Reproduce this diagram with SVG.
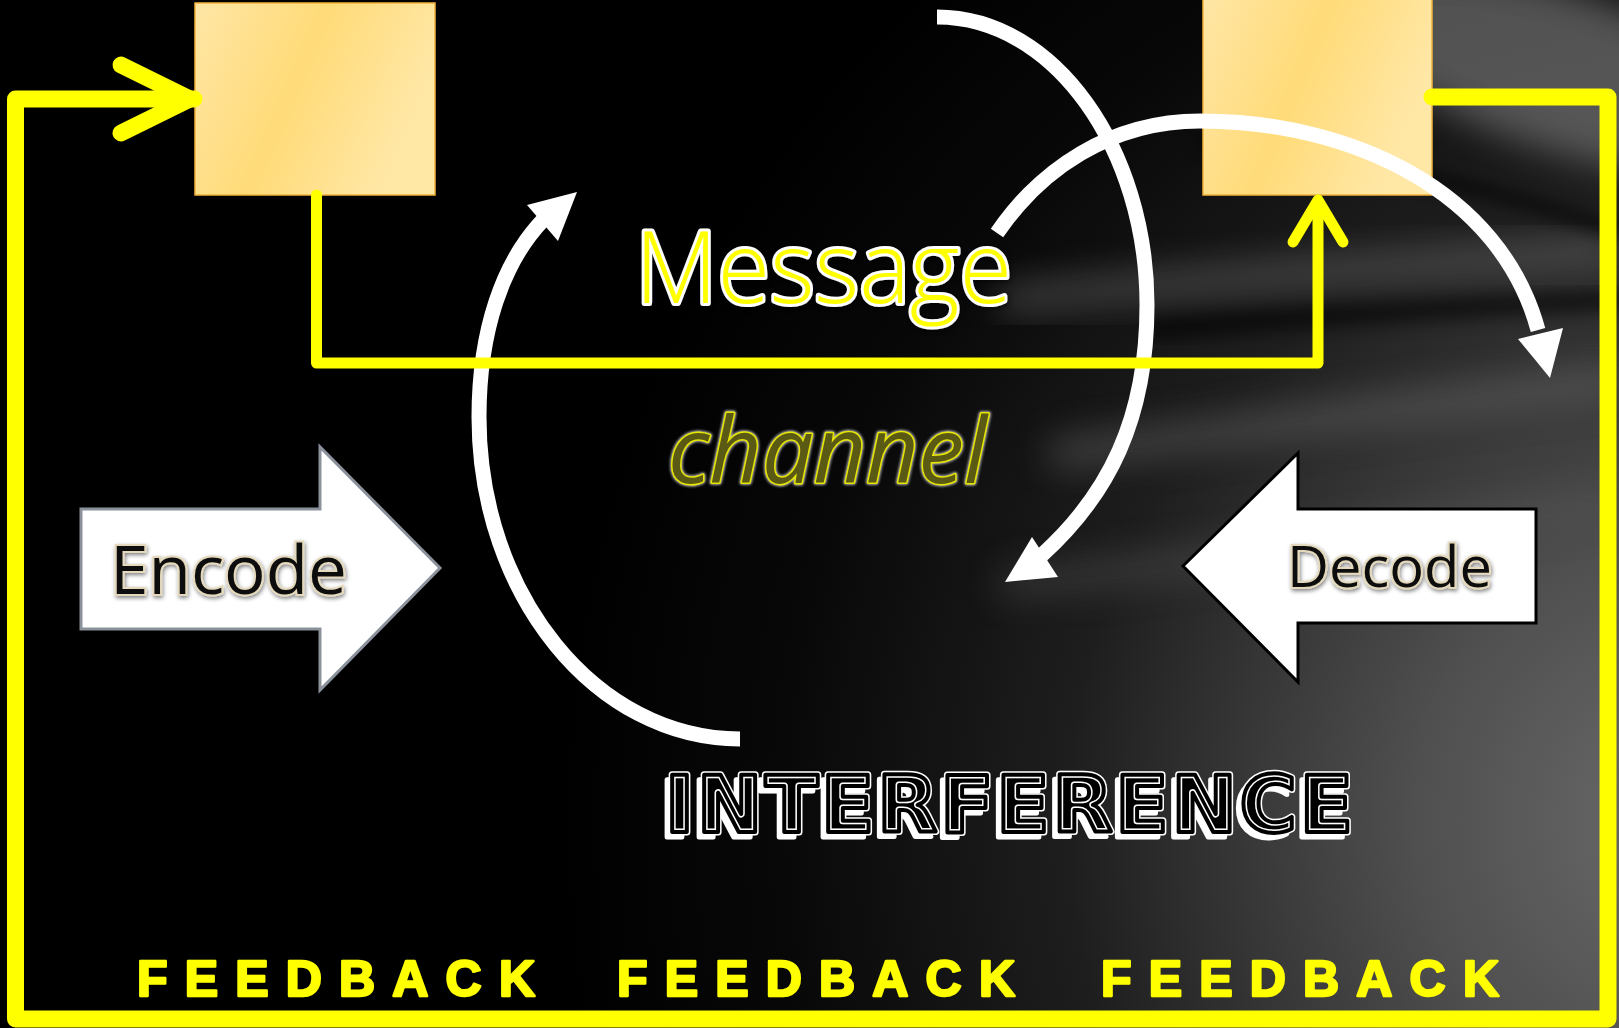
<svg xmlns="http://www.w3.org/2000/svg" width="1619" height="1028" viewBox="0 0 1619 1028">
  <defs>
    <radialGradient id="bgGlow" cx="1700" cy="820" r="1150" gradientUnits="userSpaceOnUse">
      <stop offset="0" stop-color="#6c6c6c"/>
      <stop offset="0.25" stop-color="#4f4f4f"/>
      <stop offset="0.55" stop-color="#1e1e1e"/>
      <stop offset="0.8" stop-color="#080808"/>
      <stop offset="1" stop-color="#000"/>
    </radialGradient>
    <linearGradient id="boxFill" x1="0" y1="0" x2="1" y2="0.35">
      <stop offset="0" stop-color="#ffe6a6"/>
      <stop offset="0.5" stop-color="#ffdb78"/>
      <stop offset="1" stop-color="#ffe7a6"/>
    </linearGradient>
    <filter id="soft" x="-50%" y="-50%" width="200%" height="200%">
      <feGaussianBlur stdDeviation="18"/>
    </filter>
    <filter id="softer" x="-50%" y="-50%" width="200%" height="200%">
      <feGaussianBlur stdDeviation="8"/>
    </filter>
    <filter id="glow" x="-10%" y="-30%" width="120%" height="160%">
      <feGaussianBlur in="SourceAlpha" stdDeviation="2"/>
      <feOffset dx="1" dy="2"/>
      <feComponentTransfer><feFuncA type="linear" slope="0.5"/></feComponentTransfer>
      <feMerge><feMergeNode/><feMergeNode in="SourceGraphic"/></feMerge>
    </filter>
    <style>
      .yl { fill: none; stroke: #ffff00; stroke-linejoin: round; stroke-linecap: round; }
      .wa { fill: none; stroke: #fff; stroke-width: 15; }
      .wh { fill: #fff; }
      .box { fill: url(#boxFill); stroke: #f2b33a; stroke-width: 1.5; }
      .lbl { font-family: "Open Sans", "Noto Sans", sans-serif; }
      .fb { font-family: "Liberation Sans", Arial, sans-serif; font-weight: bold; font-size: 50px; fill: #ffff00; stroke: #ffff00; stroke-width: 2.5; stroke-linejoin: round; }
      .intf { font-family: "DejaVu Sans", sans-serif; font-weight: bold; font-size: 78px; }
    </style>
    <!-- shared glyph run for the layered inline lettering -->
    <text id="intfText" class="intf" x="0" y="0" textLength="688" lengthAdjust="spacing">INTERFERENCE</text>
  </defs>

  <!-- backdrop: black fading into silky grey at the lower right -->
  <rect x="0" y="0" width="1619" height="1028" fill="#000"/>
  <rect x="0" y="0" width="1619" height="1028" fill="url(#bgGlow)"/>
  <g opacity="0.55">
    <ellipse cx="1560" cy="70" rx="230" ry="80" transform="rotate(18 1560 70)" fill="#8a8a8a" filter="url(#soft)"/>
    <path d="M 1000 300 Q 1300 270 1619 250" stroke="#7a7a7a" stroke-width="24" fill="none" filter="url(#soft)"/>
    <path d="M 1050 455 Q 1320 420 1619 380" stroke="#6a6a6a" stroke-width="28" fill="none" filter="url(#soft)"/>
    <path d="M 1000 585 Q 1280 555 1619 500" stroke="#555" stroke-width="26" fill="none" filter="url(#soft)"/>
    <path d="M 1150 330 Q 1400 310 1619 300" stroke="#000" stroke-width="20" fill="none" filter="url(#softer)"/>
    <path d="M 1200 140 Q 1400 160 1619 230" stroke="#000" stroke-width="16" fill="none" filter="url(#softer)"/>
  </g>

  <!-- sender and receiver boxes -->
  <g id="sender">
    <rect class="box" x="195" y="3" width="240" height="192"/>
  </g>
  <g id="receiver">
    <rect class="box" x="1203" y="-2" width="229" height="197"/>
  </g>

  <!-- encode / decode block arrows -->
  <g id="encode">
    <polygon points="81,509 320,509 320,447 440,568 320,690 320,629 81,629" fill="#fff" stroke="#8c929c" stroke-width="3"/>
    <text class="lbl" x="110" y="594" font-size="67" textLength="237" lengthAdjust="spacingAndGlyphs" fill="#111" stroke="#e4d9bc" stroke-width="4" paint-order="stroke" filter="url(#glow)">Encode</text>
  </g>
  <g id="decode">
    <polygon points="1536,509 1298,509 1298,453 1183,566 1298,682 1298,623 1536,623" fill="#fff" stroke="#000" stroke-width="3"/>
    <text class="lbl" x="1287" y="587" font-size="57" textLength="205" lengthAdjust="spacingAndGlyphs" fill="#111" stroke="#e4d9bc" stroke-width="4" paint-order="stroke" filter="url(#glow)">Decode</text>
  </g>

  <!-- connectors -->
  <g id="connectors">
    <!-- curved white flow arrows -->
    <path class="wa" d="M 740 739 C 596 739 479 595 479 417 C 479 330 503 262 543 220"/>
    <polygon class="wh" points="577,192 527,205 558,241"/>
    <path class="wa" d="M 937 17 C 1055 17 1147 150 1147 305 C 1147 420 1108 495 1042 555"/>
    <polygon class="wh" points="1005,582 1032,537 1058,577"/>
    <path class="wa" d="M 997 233 C 1040 170 1110 121 1200 121 C 1350 121 1500 190 1538 330"/>
    <polygon class="wh" points="1550,378 1518,339 1563,328"/>

    <!-- message path between the boxes -->
    <polyline class="yl" stroke-width="11" points="316.5,195 316.5,363 1318,363 1318,202"/>
    <polyline class="yl" stroke-width="11" points="1293,242 1318,200 1343,242"/>

    <!-- feedback loop round the whole diagram -->
    <polyline class="yl" stroke-width="17" stroke-linecap="butt" points="194,99 15.5,99 15.5,1019 1608,1019 1608,97 1432,97"/>
    <polyline class="yl" stroke-width="17" points="121,65 190,99 121,133"/>
  </g>

  <!-- centre labels -->
  <g id="message">
    <text class="lbl" x="635" y="303" font-size="99" font-weight="300" textLength="377" lengthAdjust="spacingAndGlyphs" fill="#ffff00" stroke="#fff" stroke-width="6" stroke-linejoin="round" paint-order="stroke" filter="url(#glow)">Message</text>
  </g>
  <g id="channel">
    <text class="lbl" x="668" y="483" font-size="92" font-style="italic" textLength="319" lengthAdjust="spacingAndGlyphs" fill="#5b5a14" stroke="#e6e600" stroke-width="3" stroke-linejoin="round" paint-order="stroke" style="filter: drop-shadow(0 0 1.5px #b0b0b0) drop-shadow(0 0 1px #9a9a9a)">channel</text>
  </g>
  <g id="interference">
    <!-- white drop shadow, then outer ring, then inline -->
    <use href="#intfText" x="660" y="837" fill="#fff" stroke="#fff" stroke-width="5" stroke-linejoin="round"/>
    <use href="#intfText" x="665" y="832" fill="#000" stroke="#fff" stroke-width="7" stroke-linejoin="round"/>
    <use href="#intfText" x="665" y="832" fill="none" stroke="#000" stroke-width="4" stroke-linejoin="round"/>
  </g>

  <!-- feedback captions along the bottom -->
  <g id="feedback">
    <text class="fb" x="137" y="996" textLength="398" lengthAdjust="spacing">FEEDBACK</text>
    <text class="fb" x="617" y="996" textLength="398" lengthAdjust="spacing">FEEDBACK</text>
    <text class="fb" x="1101" y="996" textLength="398" lengthAdjust="spacing">FEEDBACK</text>
  </g>
</svg>
